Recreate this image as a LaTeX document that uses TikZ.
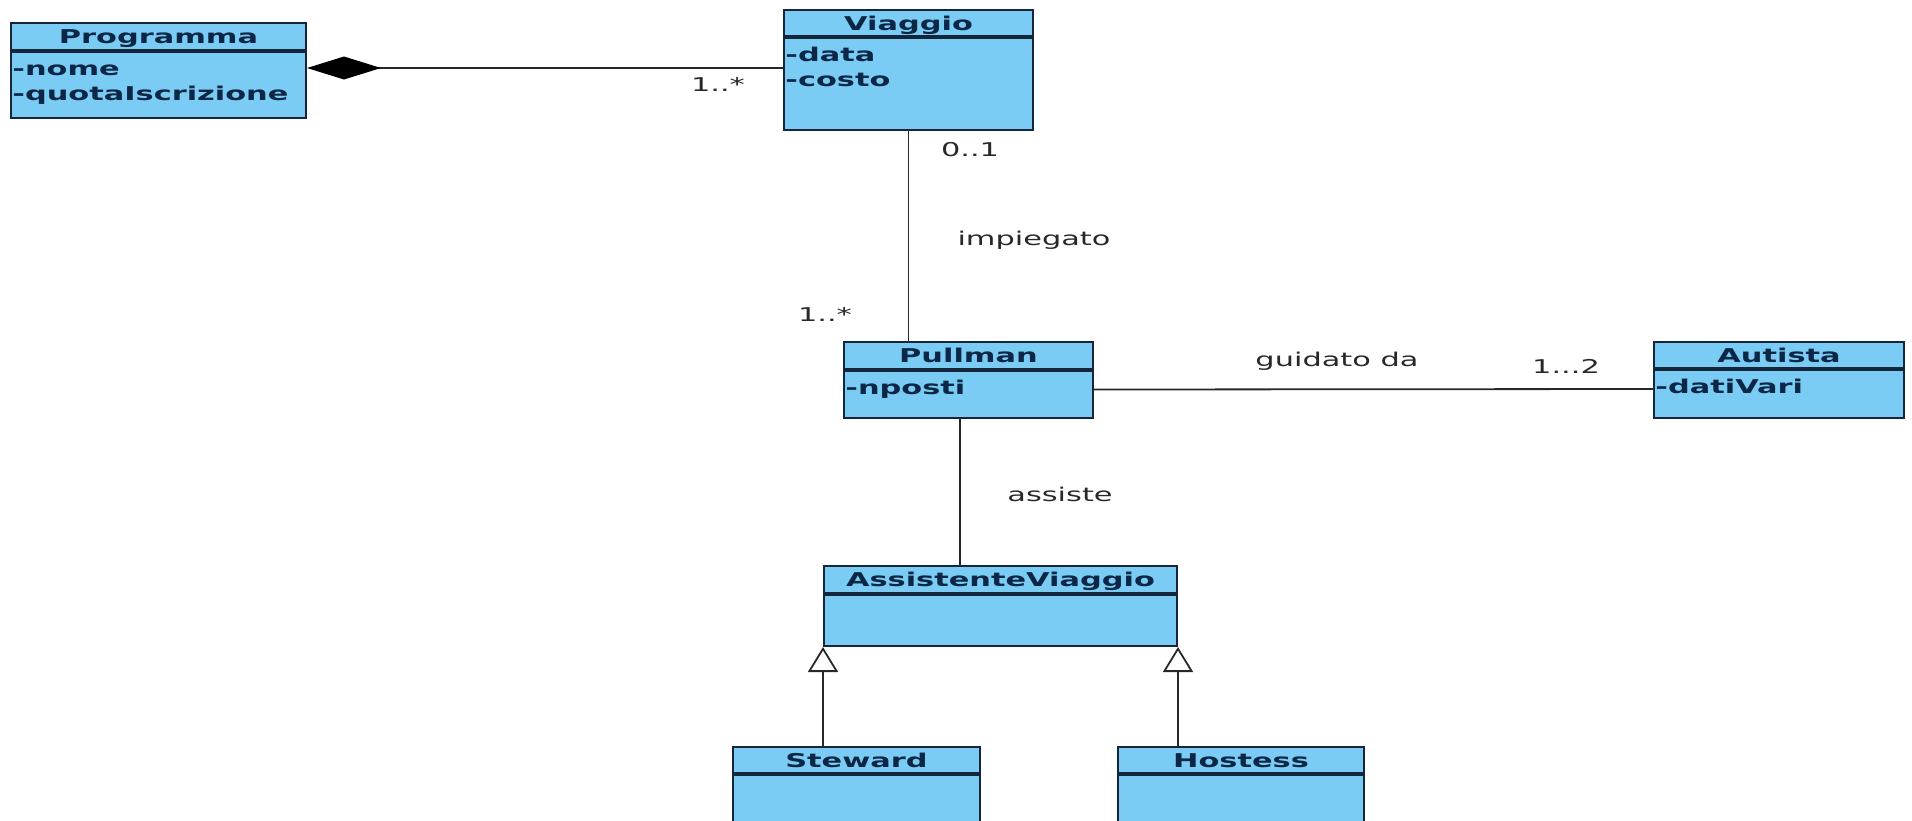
\documentclass[tikz,border=0pt]{standalone}
\usepackage{fontspec}
\setmainfont[FakeStretch=1.6]{DejaVu Sans}
\usetikzlibrary{arrows.meta}
\definecolor{classfill}{RGB}{122,204,244}
\definecolor{classline}{RGB}{22,38,58}
\definecolor{classtext}{RGB}{12,38,70}
\definecolor{linegray}{RGB}{40,40,40}
\tikzset{>=stealth,
  classhead/.style={draw=classline, fill=classfill, line width=1pt, anchor=north west, inner sep=0pt,
    text height=8pt, text depth=1pt, font=\fontsize{9.5}{12}\selectfont\bfseries, text=classtext},
  classbody/.style={draw=classline, fill=classfill, line width=1pt, anchor=north, inner sep=0pt},
  attr/.style={anchor=north west, inner xsep=1pt, inner ysep=0pt, align=left,
    font=\fontsize{9.5}{12.75}\selectfont\bfseries, text=classtext},
  assoc/.style={draw=linegray, line width=0.9pt},
  mult/.style={text=linegray, font=\fontsize{9.5}{12}\selectfont}
}

\begin{document}
\begin{tikzpicture}[x=0.5pt, y=-0.5pt]
     \useasboundingbox (0,0) rectangle (1912,820);
     \clip (0,0) rectangle (1912,820);
     % classes
     \node[classhead, minimum width=147.5pt, minimum height=13.5pt] (prog-t) at (10,22) {Programma};
     \node[classbody, minimum width=147.5pt, minimum height=33pt] (prog) at (prog-t.south) {};
     \node[attr] at ([yshift=-3pt]prog.north west) {\strut-nome\\-quotaIscrizione};
     \node[classhead, minimum width=124.5pt, minimum height=13pt] (viag-t) at (783,9) {Viaggio};
     \node[classbody, minimum width=124.5pt, minimum height=46pt] (viag) at (viag-t.south) {};
     \node[attr] at ([yshift=-3pt]viag.north west) {\strut-data\\-costo};
     \node[classhead, minimum width=124.5pt, minimum height=13.5pt] (pull-t) at (843,341) {Pullman};
     \node[classbody, minimum width=124.5pt, minimum height=23.5pt] (pull) at (pull-t.south) {};
     \node[attr] at ([yshift=-3pt]pull.north west) {\strut-nposti};
     \node[classhead, minimum width=125pt, minimum height=13pt] (aut-t) at (1653,341) {Autista};
     \node[classbody, minimum width=125pt, minimum height=24pt] (aut) at (aut-t.south) {};
     \node[attr] at ([yshift=-3pt]aut.north west) {\strut-datiVari};
     \node[classhead, minimum width=176.5pt, minimum height=13.5pt] (av-t) at (823,565) {AssistenteViaggio};
     \node[classbody, minimum width=176.5pt, minimum height=25.5pt] (av) at (av-t.south) {};
     \node[classhead, minimum width=123.5pt, minimum height=13pt] (stew-t) at (732,746) {Steward};
     \node[classbody, minimum width=123.5pt, minimum height=34pt] (stew) at (stew-t.south) {};
     \node[classhead, minimum width=123pt, minimum height=13pt] (host-t) at (1117,746) {Hostess};
     \node[classbody, minimum width=123pt, minimum height=34pt] (host) at (host-t.south) {};
     % connectors
     \coordinate (compo) at (0,68);
     \coordinate (assx) at (960,0);
     \draw[assoc, -{Diamond[length=37pt, width=11.5pt, black]}] (viag.west |- compo) -- (prog.east |- compo);
     \draw[assoc] (viag.south) -- (viag.south |- pull-t.north);
     \draw[assoc] ([yshift=2.5pt]pull.east) -- ([yshift=2.5pt]aut.west);
     \draw[assoc] (pull.south -| assx) -- (av-t.north -| assx);
     \draw[assoc, -{Triangle[open, length=12.5pt, width=15pt, fill=white]}] (stew-t.north -| av.south west) -- (av.south west);
     \draw[assoc, -{Triangle[open, length=12.5pt, width=15pt, fill=white]}] (host-t.north -| av.south east) -- (av.south east);
     % labels
     \node[mult] (m-prog) at (718,84) {1..*};
     \node[mult] (m-viag) at (970,150) {0..1};
     \node[mult] (l-imp) at (1034,240) {impiegato};
     \node[mult] (m-pull) at (825,314) {1..*};
     \node[mult] (l-guid) at (1337,361) {guidato da};
     \node[mult] (m-aut) at (1566,366) {1...2};
     \node[mult] (l-ass) at (1060,494) {assiste};
\end{tikzpicture}
\end{document}
